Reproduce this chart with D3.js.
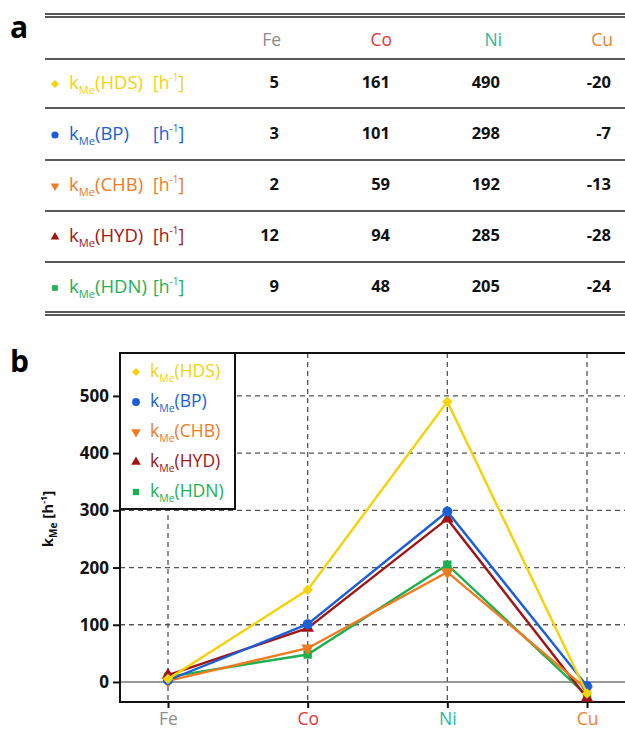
<!DOCTYPE html>
<html><head><meta charset="utf-8">
<script src="https://cdn.jsdelivr.net/npm/d3@7"></script>
<style>body{margin:0;background:#fff}svg{display:block}text{font-family:"Open Sans",sans-serif}</style>
</head><body><svg id="c" width="625" height="729"></svg>
<script>
const metals = ["Fe","Co","Ni","Cu"];
const metalColors = ["#8c8c8c","#e0363c","#1cbaa2","#f0822c"];
const seriesNames = ["HDS","BP","CHB","HYD","HDN"];
const seriesColors = ["#f5d20a","#1a5fd6","#f07a1e","#a01414","#1db050"];
const seriesSymbols = ["diamond","circle","triangleDown","triangle","square"];
const kHDS = [5,161,490,-20];
const kBP = [3,101,298,-7];
const kCHB = [2,59,192,-13];
const kHYD = [12,94,285,-28];
const kHDN = [9,48,205,-24];
const seriesValues = [kHDS,kBP,kCHB,kHYD,kHDN];
const yTicks = [0,100,200,300,400,500];

const svg = d3.select("#c");

function symPath(type, size){
  let s;
  if(type==="diamond" || type==="square") s=d3.symbolSquare;
  else if(type==="circle") s=d3.symbolCircle;
  else s=d3.symbolTriangle;
  return d3.symbol().type(s).size(size)();
}
function addSym(g, type, x, y, color, size){
  let rot = "";
  if(type==="triangleDown") rot = " rotate(180)";
  if(type==="diamond") rot = " rotate(45)";
  g.append("path").attr("d", symPath(type,size))
   .attr("transform", `translate(${x},${y})` + rot)
   .attr("fill", color);
}
function kLabel(g, x, y, name, color, size){
  const t = g.append("text").attr("x",x).attr("y",y).attr("fill",color).attr("font-size",size).attr("dominant-baseline","middle");
  t.append("tspan").text("k");
  t.append("tspan").attr("font-size",size*0.6).attr("dy",size*0.38).text("Me");
  t.append("tspan").attr("dy",-size*0.38).text("("+name+")");
  return t;
}

// ---------- panel a: table ----------
svg.append("text").attr("x",10).attr("y",38).attr("font-size",30).attr("font-weight","bold").attr("font-family","Arial, Liberation Sans, sans-serif").text("a");
const tbl = svg.append("g");
const TL = 45, TR = 625;
function hline(yy, w){ tbl.append("line").attr("x1",TL).attr("x2",TR).attr("y1",yy).attr("y2",yy).attr("stroke","#222").attr("stroke-width",w); }
hline(14,1.6); hline(17,1.6);
hline(59,1.6); hline(108,1.4); hline(160,1.4); hline(211,1.4); hline(262,1.4);
hline(312,1.6); hline(315,1.6);

const colRight = [281, 392, 502, 613];
const headerY = 41;
metals.forEach((m,i)=>{
  tbl.append("text").attr("x",colRight[i]).attr("y",headerY).attr("text-anchor","end").attr("dominant-baseline","middle")
    .attr("font-size",17.5).attr("fill",metalColors[i]).text(m);
});
const rowY = [84,135,186,237,288];
seriesNames.forEach((n,r)=>{
  const yy = rowY[r];
  addSym(tbl, seriesSymbols[r], 55, yy, seriesColors[r], n==="BP"?40:32);
  kLabel(tbl, 69, yy, n, seriesColors[r], 18.5);
  const u = tbl.append("text").attr("x",153).attr("y",yy).attr("fill",seriesColors[r]).attr("font-size",17.5).attr("dominant-baseline","middle");
  u.append("tspan").text("[h");
  u.append("tspan").attr("font-size",10).attr("dy",-6).text("-1");
  u.append("tspan").attr("dy",6).text("]");
  seriesValues[r].forEach((v,i)=>{
    tbl.append("text").attr("x",colRight[i]-2).attr("y",yy).attr("text-anchor","end").attr("dominant-baseline","middle")
      .attr("font-size",16.5).attr("font-weight","bold").attr("fill","#111").text(v);
  });
});

// ---------- panel b: chart ----------
svg.append("text").attr("x",10).attr("y",372).attr("font-size",30).attr("font-weight","bold").attr("font-family","Arial, Liberation Sans, sans-serif").text("b");
const pTop=353, pBottom=702, pLeft=120;
const x = d3.scalePoint().domain(metals).range([168,587]);
const y = d3.scaleLinear().domain([-35,575]).range([pBottom,pTop]);
const ch = svg.append("g");

// grid
ch.selectAll(".gy").data(yTicks.filter(d=>d!==0)).join("line")
  .attr("x1",pLeft).attr("x2",640).attr("y1",d=>y(d)).attr("y2",d=>y(d))
  .attr("stroke","#555").attr("stroke-width",1.3).attr("stroke-dasharray","5,4");
ch.selectAll(".gx").data(metals).join("line")
  .attr("x1",d=>x(d)).attr("x2",d=>x(d)).attr("y1",pTop).attr("y2",pBottom)
  .attr("stroke","#555").attr("stroke-width",1.3).attr("stroke-dasharray","5,4");
ch.append("line").attr("x1",pLeft).attr("x2",640).attr("y1",y(0)).attr("y2",y(0)).attr("stroke","#777").attr("stroke-width",1.5);

// frame
ch.append("rect").attr("x",pLeft).attr("y",pTop).attr("width",530).attr("height",pBottom-pTop)
  .attr("fill","none").attr("stroke","#111").attr("stroke-width",2);

// axes
const ya = ch.append("g").attr("transform",`translate(${pLeft},0)`)
  .call(d3.axisLeft(y).tickValues(yTicks).tickSize(7).tickPadding(4));
ya.select(".domain").remove();
ya.selectAll("line").attr("stroke","#111").attr("stroke-width",2);
ya.selectAll("text").attr("font-size",17).attr("font-weight","bold").attr("fill","#111").attr("font-family","\"Open Sans\",sans-serif");

const xa = ch.append("g").attr("transform",`translate(0,${pBottom})`)
  .call(d3.axisBottom(x).tickSize(6).tickPadding(5));
xa.select(".domain").remove();
xa.selectAll("line").attr("stroke","#111").attr("stroke-width",2);
xa.selectAll("text").attr("font-size",17.5).attr("font-family","\"Open Sans\",sans-serif").attr("fill",(d,i)=>metalColors[i]);

// y label
const yl = ch.append("text").attr("transform","translate(53,519) rotate(-90)").attr("text-anchor","middle")
  .attr("font-size",15).attr("font-weight","bold").attr("fill","#111");
yl.append("tspan").text("k");
yl.append("tspan").attr("font-size",10).attr("dy",4).text("Me");
yl.append("tspan").attr("dy",-4).text(" [h");
yl.append("tspan").attr("font-size",9).attr("dy",-6).text("-1");
yl.append("tspan").attr("dy",6).text("]");

// series (draw last series first so HDS on top)
const line = d3.line().x((d,i)=>x(metals[i])).y(d=>y(d));
for(let r=seriesNames.length-1;r>=0;r--){
  const g = ch.append("g");
  g.append("path").datum(seriesValues[r]).attr("d",line).attr("fill","none")
    .attr("stroke",seriesColors[r]).attr("stroke-width",2.4);
  seriesValues[r].forEach((v,i)=>addSym(g, seriesSymbols[r], x(metals[i]), y(v), seriesColors[r], seriesSymbols[r]==="circle"?80:(seriesSymbols[r]==="diamond"?55:70)));
}

// legend
const lg = ch.append("g");
lg.append("rect").attr("x",pLeft).attr("y",pTop).attr("width",115).attr("height",156)
  .attr("fill","#fff").attr("stroke","#111").attr("stroke-width",2);
seriesNames.forEach((n,r)=>{
  const ly = 372 + r*30;
  addSym(lg, seriesSymbols[r], 136, ly, seriesColors[r], seriesSymbols[r]==="circle"?48:(seriesSymbols[r]==="diamond"?34:40));
  kLabel(lg, 150, ly, n, seriesColors[r], 17.5);
});
</script></body></html>
